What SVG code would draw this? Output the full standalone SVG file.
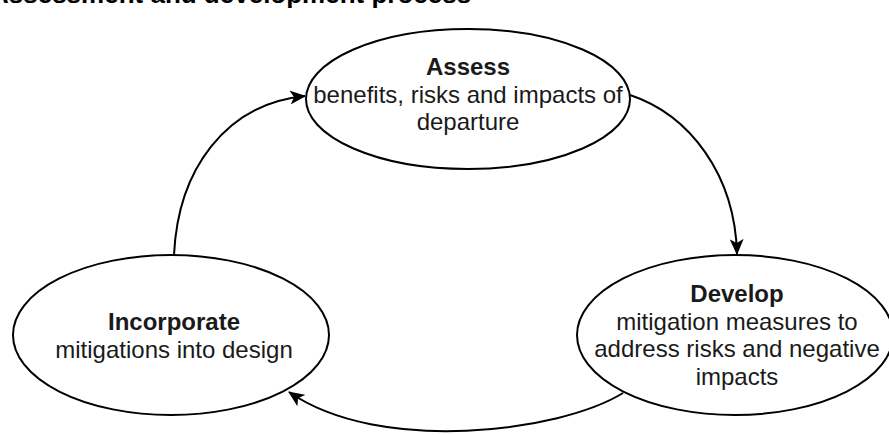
<svg xmlns="http://www.w3.org/2000/svg" width="889" height="435" viewBox="0 0 889 435">
<style>
.node{fill:#fff;stroke:#000;stroke-width:2}
.t{font-family:"Liberation Sans",Arial,sans-serif;font-size:24px;fill:#1a1a1a;text-anchor:middle}
.b{font-weight:bold}
.title{font-family:"Liberation Sans",Arial,sans-serif;font-size:26px;font-weight:bold;fill:#000}
.edge{fill:none;stroke:#000;stroke-width:2;marker-end:url(#arr)}
</style>
<defs>
<marker id="arr" viewBox="0 0 16 14" refX="15" refY="7" markerWidth="16" markerHeight="14" markerUnits="userSpaceOnUse" orient="auto">
<path d="M0,0 L16,7 L0,14 L4,7 Z" fill="#000"/>
</marker>
</defs>
<rect width="889" height="435" fill="#fff"/>
<text class="title" x="-10" y="3">Assessment and development process</text>
<g id="connectors">
<path class="edge" d="M174,255 C178,170 225,104 305,96"/>
<path class="edge" d="M630,95 C690,115 735,175 737,254"/>
<path class="edge" d="M623,393 C560,432 380,455 289,392"/>
</g>
<g id="assess">
<ellipse class="node" cx="468" cy="99" rx="162" ry="70"/>
<text class="t b" x="468" y="75">Assess</text>
<text class="t" x="468" y="103">benefits, risks and impacts of</text>
<text class="t" x="468" y="130">departure</text>
</g>
<g id="develop">
<ellipse class="node" cx="735" cy="335" rx="158" ry="80"/>
<text class="t b" x="737" y="302">Develop</text>
<text class="t" x="737" y="330">mitigation measures to</text>
<text class="t" x="737" y="357">address risks and negative</text>
<text class="t" x="737" y="385">impacts</text>
</g>
<g id="incorporate">
<ellipse class="node" cx="171" cy="335" rx="158" ry="80"/>
<text class="t b" x="174" y="330">Incorporate</text>
<text class="t" x="174" y="358">mitigations into design</text>
</g>
</svg>
